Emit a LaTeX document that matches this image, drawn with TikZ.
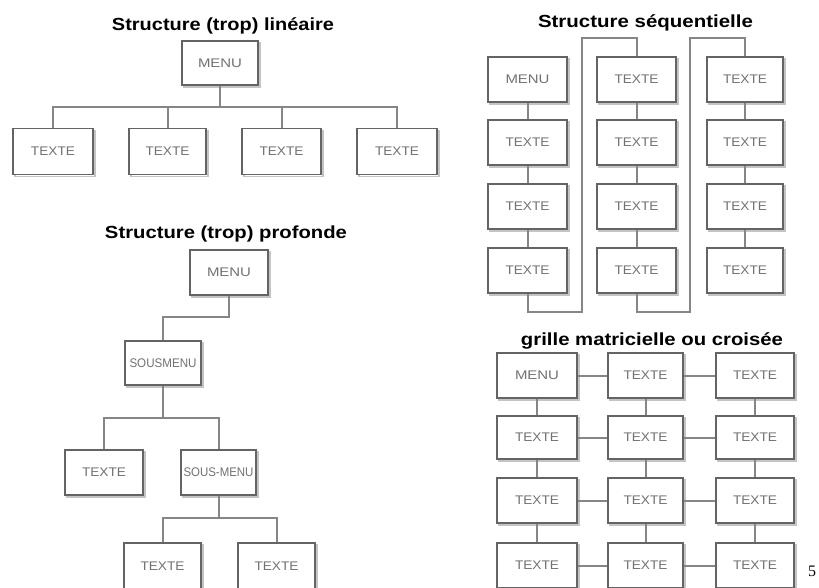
\documentclass[tikz,border=0pt]{standalone}
\usepackage{fontspec}
\setmainfont{Liberation Sans}
\newfontfamily\serifnum{Liberation Serif}
\definecolor{boxc}{HTML}{646464}
\definecolor{shdc}{HTML}{C4C4C4}
\definecolor{conc}{HTML}{868686}
\definecolor{txtc}{HTML}{727272}
\newcommand\tx[2]{\resizebox{#1pt}{\height}{#2}}
\newcommand\bxn[6]{%
  \draw[shd] ({#2-#4/2+2},{#3-#5/2+2}) rectangle ({#2+#4/2+2},{#3+#5/2+2});
  \node[bx, minimum width=#4pt, minimum height=#5pt] (#1) at (#2,#3) {#6};}
\begin{document}
\begin{tikzpicture}[x=1pt,y=-1pt,
  bx/.style={draw=boxc, line width=1.7pt, fill=white, inner sep=0pt,
    font=\fontsize{12.5}{14}\selectfont, text=txtc},
  shd/.style={draw=shdc, line width=1.6pt},
  cn/.style={draw=conc, line width=2pt},
  ttl/.style={font=\bfseries\fontsize{17.5}{20}\selectfont, text=black, inner sep=0pt}]
\useasboundingbox (0,0) rectangle (819,587);
\clip (0,0) rectangle (819,587);

% ---------- titles
\node[ttl, anchor=base] (t1) at (223,30) {\tx{222}{Structure (trop) linéaire}};
\node[ttl, anchor=base] (t2) at (226,238) {\tx{242}{Structure (trop) profonde}};
\node[ttl, anchor=base] (t3) at (645.5,27) {\tx{215}{Structure séquentielle}};
\node[ttl, anchor=base] (t4) at (652,345) {\tx{262}{grille matricielle ou croisée}};

% ---------- A: linear
\bxn{mA}{220}{63}{76}{44}{\tx{44}{MENU}}
\bxn{a1}{53}{151.5}{80}{46}{\tx{44}{TEXTE}}
\bxn{a2}{167.5}{151.5}{77}{46}{\tx{44}{TEXTE}}
\bxn{a3}{281.5}{151.5}{79}{46}{\tx{44}{TEXTE}}
\bxn{a4}{397}{151.5}{80}{46}{\tx{44}{TEXTE}}
\coordinate (yA) at (0,107);
\draw[cn] (mA.south) -- (mA.south |- yA);
\draw[cn] (a1.north) -- (a1.north |- yA) -- (a4.north |- yA) -- (a4.north);
\draw[cn] (a2.north) -- (a2.north |- yA);
\draw[cn] (a3.north) -- (a3.north |- yA);

% ---------- B: deep
\bxn{mB}{229}{272.5}{78}{45}{\tx{44}{MENU}}
\bxn{sB}{163}{363}{76}{44}{\tx{67}{SOUSMENU}}
\bxn{b1}{104}{472.5}{78}{45}{\tx{44}{TEXTE}}
\bxn{sB2}{218.5}{472.5}{75}{45}{\tx{70}{SOUS-MENU}}
\bxn{b2}{162.5}{566}{77}{46}{\tx{44}{TEXTE}}
\bxn{b3}{276.5}{566}{77}{46}{\tx{44}{TEXTE}}
\coordinate (yB1) at (0,317);
\coordinate (yB2) at (0,418);
\coordinate (yB3) at (0,518);
\draw[cn] (mB.south) -- (mB.south |- yB1) -- (sB.north |- yB1) -- (sB.north);
\draw[cn] (sB.south) -- (sB.south |- yB2);
\draw[cn] (b1.north) -- (b1.north |- yB2) -- (sB2.north |- yB2) -- (sB2.north);
\draw[cn] (sB2.south) -- (sB2.south |- yB3);
\draw[cn] (b2.north) -- (b2.north |- yB3) -- (b3.north |- yB3) -- (b3.north);

% ---------- C: sequential
\bxn{c11}{527.5}{79.5}{79}{45}{\tx{44}{MENU}}
\bxn{c12}{527.5}{142.5}{79}{45}{\tx{44}{TEXTE}}
\bxn{c13}{527.5}{206.5}{79}{45}{\tx{44}{TEXTE}}
\bxn{c14}{527.5}{270.5}{79}{45}{\tx{44}{TEXTE}}
\bxn{c21}{636.5}{79.5}{79}{45}{\tx{44}{TEXTE}}
\bxn{c22}{636.5}{142.5}{79}{45}{\tx{44}{TEXTE}}
\bxn{c23}{636.5}{206.5}{79}{45}{\tx{44}{TEXTE}}
\bxn{c24}{636.5}{270.5}{79}{45}{\tx{44}{TEXTE}}
\bxn{c31}{745}{79.5}{76}{45}{\tx{44}{TEXTE}}
\bxn{c32}{745}{142.5}{76}{45}{\tx{44}{TEXTE}}
\bxn{c33}{745}{206.5}{76}{45}{\tx{44}{TEXTE}}
\bxn{c34}{745}{270.5}{76}{45}{\tx{44}{TEXTE}}
\foreach \c in {1,2,3}{
  \draw[cn] (c\c1.south) -- (c\c2.north);
  \draw[cn] (c\c2.south) -- (c\c3.north);
  \draw[cn] (c\c3.south) -- (c\c4.north);
}
\coordinate (yCb) at (0,312);
\coordinate (yCt) at (0,38);
\coordinate (xC1) at (582,0);
\coordinate (xC2) at (690,0);
\draw[cn] (c14.south) -- (c14.south |- yCb) -- (xC1 |- yCb) -- (xC1 |- yCt) -- (c21.north |- yCt) -- (c21.north);
\draw[cn] (c24.south) -- (c24.south |- yCb) -- (xC2 |- yCb) -- (xC2 |- yCt) -- (c31.north |- yCt) -- (c31.north);

% ---------- D: grid
\bxn{d11}{537}{375.5}{80}{45}{\tx{44}{MENU}}
\bxn{d21}{645.5}{375.5}{75}{45}{\tx{44}{TEXTE}}
\bxn{d31}{755}{375.5}{78}{45}{\tx{44}{TEXTE}}
\bxn{d12}{537}{437.5}{80}{43}{\tx{44}{TEXTE}}
\bxn{d22}{645.5}{437.5}{75}{43}{\tx{44}{TEXTE}}
\bxn{d32}{755}{437.5}{78}{43}{\tx{44}{TEXTE}}
\bxn{d13}{537}{500.5}{80}{45}{\tx{44}{TEXTE}}
\bxn{d23}{645.5}{500.5}{75}{45}{\tx{44}{TEXTE}}
\bxn{d33}{755}{500.5}{78}{45}{\tx{44}{TEXTE}}
\bxn{d14}{537}{565.5}{80}{45}{\tx{44}{TEXTE}}
\bxn{d24}{645.5}{565.5}{75}{45}{\tx{44}{TEXTE}}
\bxn{d34}{755}{565.5}{78}{45}{\tx{44}{TEXTE}}
\foreach \r in {1,2,3,4}{
  \draw[cn] (d1\r.east) -- (d2\r.west);
  \draw[cn] (d2\r.east) -- (d3\r.west);
}
\foreach \c in {1,2,3}{
  \draw[cn] (d\c1.south) -- (d\c2.north);
  \draw[cn] (d\c2.south) -- (d\c3.north);
  \draw[cn] (d\c3.south) -- (d\c4.north);
}

% ---------- page number
\node[anchor=base west, inner sep=0pt, font=\serifnum\fontsize{16}{18}\selectfont] (pg) at (808,576) {5};
\end{tikzpicture}
\end{document}
